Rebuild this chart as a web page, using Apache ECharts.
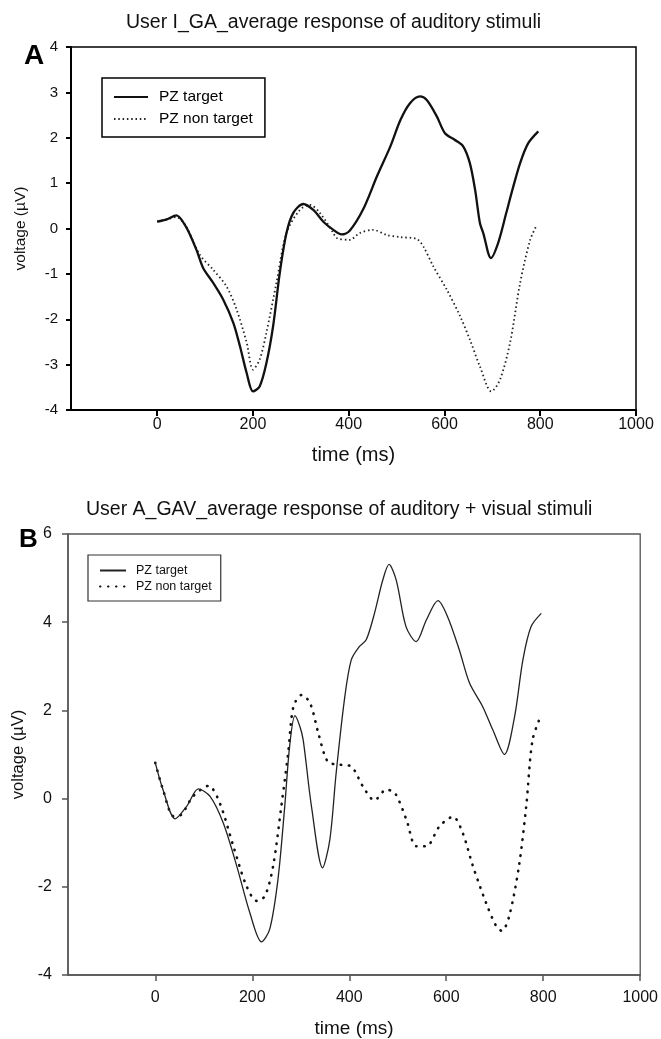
<!DOCTYPE html>
<html>
<head>
<meta charset="utf-8">
<script src="https://cdn.jsdelivr.net/npm/echarts@6.0.0/dist/echarts.min.js"></script>
<style>html,body{margin:0;padding:0;background:#fff}#c{width:661px;height:1039px}</style>
</head>
<body>
<div id="c"></div>
<script>
// ---- Text ----
const titleA = 'User I_GA_average response of auditory stimuli';
const titleB = 'User A_GAV_average response of auditory + visual stimuli';
const xTicks = [0, 200, 400, 600, 800, 1000];
const legendNames = ['PZ target', 'PZ non target'];

// ---- Panel A data (time in ms, voltage in µV) ----
const aTargetT = [0,20,40,60,82,96,117,138,159,173,187,200,214,228,242,256,270,284,305,326,347,368,385,402,431,459,487,508,528,549,563,584,601,622,639,653,664,674,681,697,712,729,740,758,775,796];
const aTargetV = [0.15,0.2,0.29,0.04,-0.47,-0.87,-1.2,-1.57,-2.08,-2.6,-3.19,-3.59,-3.48,-2.97,-2.16,-0.98,-0.1,0.34,0.54,0.41,0.15,-0.03,-0.13,-0.05,0.44,1.15,1.81,2.39,2.76,2.91,2.83,2.47,2.10,1.95,1.81,1.44,0.85,0.12,-0.10,-0.65,-0.32,0.34,0.78,1.44,1.88,2.14];

const aNonT = [0,20,40,60,89,117,145,166,187,200,214,228,249,270,298,319,340,368,375,402,423,451,479,507,542,556,577,605,633,653,674,698,716,737,758,779,793];
const aNonV = [0.15,0.2,0.25,0.05,-0.58,-0.91,-1.28,-1.79,-2.52,-3.11,-2.89,-2.3,-1.2,-0.1,0.41,0.52,0.34,-0.1,-0.21,-0.25,-0.1,-0.03,-0.14,-0.19,-0.23,-0.40,-0.84,-1.35,-1.94,-2.45,-3.04,-3.59,-3.33,-2.52,-1.2,-0.25,0.08];

// ---- Panel B data ----
const bTargetT = [0,16,41,65,89,113,140,168,195,219,236,253,267,277,288,298,305,322,345,360,373,390,404,421,435,452,469,482,497,517,538,559,583,603,627,648,675,696,720,741,758,775,796];
const bTargetV = [0.81,0.2,-0.46,-0.17,0.22,0.05,-0.55,-1.53,-2.59,-3.25,-2.96,-1.83,-0.17,1.18,1.88,1.64,1.33,-0.17,-1.57,-0.93,0.58,2.24,3.14,3.45,3.6,4.2,4.95,5.31,4.95,3.9,3.56,4.05,4.49,4.12,3.37,2.62,2.09,1.56,1.0,1.86,3.14,3.9,4.2];

const bNonT = [0,16,38,54,78,110,133,161,188,209,226,243,260,274,285,302,319,336,350,359,380,404,428,452,476,494,518,538,559,586,614,634,655,682,703,715,730,750,765,778,796];
const bNonV = [0.81,0.2,-0.4,-0.36,0.05,0.29,-0.1,-1.08,-1.98,-2.32,-2.21,-1.53,-0.17,1.03,2.09,2.35,2.17,1.49,0.96,0.81,0.77,0.73,0.28,-0.04,0.2,0.13,-0.48,-1.08,-1.08,-0.63,-0.41,-0.78,-1.53,-2.36,-2.89,-3.0,-2.66,-1.53,-0.17,1.33,1.9];

function pairs(t, v) { return t.map((x, i) => [x, v[i]]); }
const FONT = '"Liberation Sans", Arial, sans-serif';

function xAxisCfg(grid, color, w, fs, labelMargin, nameGap, nameFs, tickLen) {
  return {
    gridIndex: grid, type: 'value', min: -180, max: 1000,
    axisLine: { show: true, onZero: false, lineStyle: { color: color, width: w } },
    axisTick: { show: true, customValues: xTicks, length: tickLen, lineStyle: { color: color, width: w } },
    axisLabel: { customValues: xTicks, formatter: v => String(v), fontSize: fs, margin: labelMargin, color: '#111', fontFamily: FONT },
    splitLine: { show: false },
    name: 'time (ms)', nameLocation: 'middle', nameGap: nameGap,
    nameTextStyle: { fontSize: nameFs, color: '#111', fontFamily: FONT }
  };
}
function yAxisCfg(grid, min, max, interval, color, w, fs, labelMargin, nameGap, nameFs, tickLen) {
  return {
    gridIndex: grid, type: 'value', min: min, max: max, interval: interval,
    axisLine: { show: true, onZero: false, lineStyle: { color: color, width: w } },
    axisTick: { show: true, length: tickLen, lineStyle: { color: color, width: w } },
    axisLabel: { fontSize: fs, margin: labelMargin, color: '#111', fontFamily: FONT },
    splitLine: { show: false },
    name: 'voltage (\u00B5V)', nameLocation: 'middle', nameGap: nameGap, nameRotate: 90,
    nameTextStyle: { fontSize: nameFs, color: '#111', fontFamily: FONT }
  };
}

const chart = echarts.init(document.getElementById('c'), null, { renderer: 'canvas' });
chart.setOption({
  animation: false,
  backgroundColor: '#fff',
  title: [
    { text: titleA, left: 121, top: 8, textStyle: { fontSize: 19.5, fontWeight: 'normal', color: '#111', fontFamily: FONT } },
    { text: 'A', left: 19, top: 37, textStyle: { fontSize: 28, fontWeight: 'bold', color: '#000', fontFamily: FONT } },
    { text: titleB, left: 81, top: 495, textStyle: { fontSize: 19.5, fontWeight: 'normal', color: '#111', fontFamily: FONT } },
    { text: 'B', left: 14, top: 522, textStyle: { fontSize: 26, fontWeight: 'bold', color: '#000', fontFamily: FONT } }
  ],
  grid: [
    { left: 71, top: 47, width: 565, height: 363, show: true, borderColor: '#000', borderWidth: 1.5, backgroundColor: 'transparent' },
    { left: 68, top: 534, width: 573, height: 442, show: true, borderColor: '#555', borderWidth: 1.3, backgroundColor: 'transparent' }
  ],
  xAxis: [
    xAxisCfg(0, '#000', 2, 16, 7, 35, 20, 6),
    xAxisCfg(1, '#555', 1.5, 16, 15, 44, 19, 6)
  ],
  yAxis: [
    yAxisCfg(0, -4, 4, 1, '#000', 2, 15, 13, 42, 15.5, 5),
    yAxisCfg(1, -4, 6, 2, '#555', 1.5, 16, 16, 41, 16.5, 6)
  ],
  legend: [
    {
      orient: 'vertical', left: 102, top: 78, data: ['A|' + legendNames[0], 'A|' + legendNames[1]],
      formatter: n => n.slice(2), selectedMode: false,
      itemStyle: { opacity: 0 },
      borderColor: '#000', borderWidth: 1.5, padding: [11, 12, 10, 11],
      itemWidth: 34, itemHeight: 14, itemGap: 6,
      textStyle: { fontSize: 15.5, color: '#000', fontFamily: FONT, padding: [0, 0, 0, 6] }
    },
    {
      orient: 'vertical', left: 88, top: 555, data: ['B|' + legendNames[0], 'B|' + legendNames[1]],
      formatter: n => n.slice(2), selectedMode: false,
      itemStyle: { opacity: 0 },
      borderColor: '#333', borderWidth: 1.2, padding: [9, 9, 8, 11],
      itemWidth: 26, itemHeight: 12, itemGap: 3,
      textStyle: { fontSize: 12.5, color: '#111', fontFamily: FONT, padding: [0, 0, 0, 5] }
    }
  ],
  series: [
    { name: 'A|' + legendNames[1], type: 'line', xAxisIndex: 0, yAxisIndex: 0, data: pairs(aNonT, aNonV), smooth: 0.3, symbol: 'none',
      itemStyle: { color: '#222' }, lineStyle: { color: '#222', width: 1.8, type: [1.5, 2.8] } },
    { name: 'A|' + legendNames[0], type: 'line', xAxisIndex: 0, yAxisIndex: 0, data: pairs(aTargetT, aTargetV), smooth: 0.3, symbol: 'none',
      itemStyle: { color: '#111' }, lineStyle: { color: '#111', width: 2.3 } },
    { name: 'B|' + legendNames[1], type: 'line', xAxisIndex: 1, yAxisIndex: 1, data: pairs(bNonT, bNonV), smooth: 0.3, symbol: 'none',
      itemStyle: { color: '#111' }, lineStyle: { color: '#111', width: 2.6, type: [0.5, 7.5], cap: 'round' } },
    { name: 'B|' + legendNames[0], type: 'line', xAxisIndex: 1, yAxisIndex: 1, data: pairs(bTargetT, bTargetV), smooth: 0.3, symbol: 'none',
      itemStyle: { color: '#222' }, lineStyle: { color: '#222', width: 1.3 } }
  ]
});
</script>
</body>
</html>
